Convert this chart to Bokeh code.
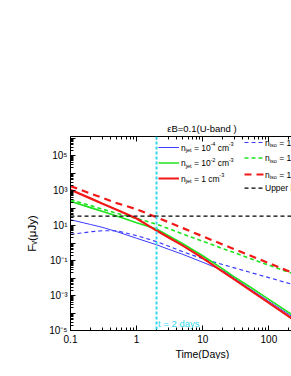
import math
from bokeh.plotting import figure
from bokeh.models import FixedTicker, LogAxis, Label, CustomJSTickFormatter, Span, Title
from bokeh.embed import file_html
from bokeh.resources import INLINE

# ---------------- data ----------------
t_days = [0.1, 0.2, 0.3, 0.5, 1, 2, 3, 5, 10, 20, 30, 50, 100, 220]

# jet (solid) light curves, F_nu in microJy
f_jet_1e4 = [21.4, 11.5, 7.94, 4.47, 1.86, 0.794, 0.447, 0.224, 0.0794, 0.0275, 0.0100, 0.00263, 4.68e-4, 6.61e-5]
f_jet_1e2 = [245, 105, 64.6, 34.7, 14.5, 6.31, 2.69, 0.912, 0.186, 0.0331, 0.0117, 0.00339, 6.03e-4, 8.32e-5]
f_jet_1 = [1096, 355, 182, 79.4, 25.1, 5.13, 2.14, 0.708, 0.138, 0.0234, 0.00832, 0.00224, 3.80e-4, 5.01e-5]

# isotropic (dashed) light curves, F_nu in microJy
f_iso_1e4 = [3.09, 4.37, 5.01, 5.01, 2.63, 1.20, 0.676, 0.316, 0.126, 0.0589, 0.0380, 0.0219, 0.0105, 0.00447]
f_iso_1e2 = [295, 138, 87.1, 50.1, 25.1, 12.0, 6.76, 3.24, 1.26, 0.479, 0.282, 0.138, 0.0537, 0.0191]
f_iso_1 = [1778, 676, 389, 191, 85.1, 29.5, 15.8, 7.08, 2.40, 0.832, 0.447, 0.204, 0.0708, 0.0209]

upper_limit = 34.0
t_marker = 2.0

x_tick_values = [0.1, 1, 10, 100]
x_tick_labels = ["0.1", "1", "10", "100"]
y_tick_exponents = [-5, -3, -1, 1, 3, 5]

legend_jet = ["10^-4", "10^-2", "1"]
legend_iso = ["10^-4", "10^-2", "1"]

title_text = "εB=0.1(U-band )"
x_label = "Time(Days)"
y_label = "Fᵥ(μJy)"

# ---------------- layout ----------------
FONT = "Liberation Sans"
BLUE, GREEN, RED, CYAN = "#3b3bff", "#1fe31f", "#f21818", "#2fd8ec"

X0, X1 = 0.1, 220.0
Y0, Y1 = 1e-5, 10 ** 6.086
FL, FR, FT, FB = 70.0, 291.0, 136.0, 330.0   # frame edges in page pixels

def px2x(px):
    a, b = math.log10(X0), math.log10(X1)
    return 10 ** (a + (px - FL) / (FR - FL) * (b - a))

def py2y(py):
    a, b = math.log10(Y0), math.log10(Y1)
    return 10 ** (a + (FB - py) / (FB - FT) * (b - a))

W = {' ': .278, '(': .333, ')': .333, '-': .333, '.': .278, '=': .584,
     'B': .667, 'D': .722, 'F': .611, 'J': .5, 'T': .611, 'U': .722,
     'a': .556, 'b': .556, 'c': .5, 'd': .556, 'e': .556, 'i': .222, 'j': .222,
     'l': .222, 'm': .833, 'n': .556, 'o': .556, 'p': .556, 'r': .333, 's': .5,
     't': .278, 'u': .556, 'y': .5}

def tw(s, size):
    return sum(W.get(c, .556) for c in s) * size

SUP = str.maketrans("-0123456789", "⁻⁰¹²³⁴⁵⁶⁷⁸⁹")

p = figure(frame_width=int(FR - FL), frame_height=int(FB - FT),
           x_axis_type="log", y_axis_type="log",
           x_range=(X0, X1), y_range=(Y0, Y1),
           output_backend="svg", toolbar_location=None,
           min_border_left=int(FL), min_border_right=0,
           min_border_top=int(FT), min_border_bottom=6)
p.grid.visible = False
p.outline_line_color = None
p.background_fill_color = "white"
p.border_fill_color = "white"

x_minor = [k * 10 ** d for d in (-1, 0, 1, 2) for k in range(2, 10) if k * 10 ** d <= X1]
y_major = [10.0 ** e for e in range(-5, 7)]
y_minor = [k * 10.0 ** d for d in range(-5, 7) for k in range(2, 10) if k * 10.0 ** d <= Y1]

def style_axis(ax):
    ax.major_tick_in = 5
    ax.major_tick_out = 0
    ax.minor_tick_in = 3
    ax.minor_tick_out = 0
    ax.axis_line_color = "black"
    ax.major_tick_line_color = "black"
    ax.minor_tick_line_color = "black"
    ax.axis_line_width = 1

xa = p.xaxis[0]
xa.axis_label = None
xa.ticker = FixedTicker(ticks=x_tick_values, minor_ticks=x_minor)
xa.formatter = CustomJSTickFormatter(
    args=dict(labels=x_tick_labels, vals=x_tick_values),
    code="for (let i=0;i<vals.length;i++){ if (Math.abs(vals[i]-tick) < 1e-9*vals[i]) return labels[i]; } return '';")
xa.major_label_text_font = FONT
xa.major_label_text_font_size = "10px"
xa.major_label_text_color = "black"
xa.major_label_standoff = 4
style_axis(xa)

ya = p.yaxis[0]
ya.ticker = FixedTicker(ticks=y_major, minor_ticks=y_minor)
ya.formatter = CustomJSTickFormatter(
    args=dict(exps=y_tick_exponents, labels=["10" + str(e).translate(SUP) for e in y_tick_exponents]),
    code="const e = Math.round(Math.log10(tick)); const i = exps.indexOf(e); return i >= 0 ? labels[i] : '';")
ya.major_label_text_font = FONT
ya.major_label_text_font_size = "10px"
ya.major_label_text_color = "black"
ya.major_label_standoff = 3
ya.axis_label = y_label
ya.axis_label_text_font = FONT
ya.axis_label_text_font_size = "11.5px"
ya.axis_label_text_font_style = "normal"
ya.axis_label_text_color = "black"
ya.axis_label_standoff = 8
style_axis(ya)

top = LogAxis(ticker=FixedTicker(ticks=x_tick_values, minor_ticks=x_minor),
              formatter=CustomJSTickFormatter(code="return '';"),
              major_label_standoff=0)
style_axis(top)
p.add_layout(top, "above")

p.title.text = title_text
p.title.align = "left"
p.title.offset = 166.7 - FL
p.title.standoff = 6
p.title.text_font = FONT
p.title.text_font_size = "9.5px"
p.title.text_font_style = "normal"
p.title.text_color = "black"

p.add_layout(Title(text=x_label, align="left", offset=202 - FL - tw(x_label, 10.5) / 2,
                   standoff=0, text_font=FONT, text_font_size="10.5px",
                   text_font_style="normal", text_color="black"), "below")

# ---------------- curves ----------------
p.line(t_days, f_jet_1e4, line_color=BLUE, line_width=1)
p.line(t_days, f_iso_1e4, line_color=BLUE, line_width=1.2, line_dash="4 3")
p.line(t_days, f_jet_1e2, line_color=GREEN, line_width=1.6)
p.line(t_days, f_iso_1e2, line_color=GREEN, line_width=1.6, line_dash="4 3")
p.line(t_days, f_jet_1, line_color=RED, line_width=2.2)
p.line(t_days, f_iso_1, line_color=RED, line_width=2.2, line_dash="7 5")

p.add_layout(Span(location=upper_limit, dimension="width", line_color="black",
                  line_width=1.2, line_dash="4 3"))
p.add_layout(Span(location=t_marker, dimension="height", line_color=CYAN,
                  line_width=2, line_dash="3 2"))

# ---------------- rich text helper (inside the frame) ----------------
def rich(px, py, parts, size, color="black"):
    pos = 0.0
    for text, kind in parts:
        if kind == "n":
            fs, d, shift = size, 0.0, 0.0
        elif kind == "sup":
            fs, d, shift = size * 0.65, -size * 0.38, -0.3
        else:
            fs, d, shift = size * 0.65, size * 0.32, 0.0
        core = text.strip(" ")
        lead = len(text) - len(text.lstrip(" "))
        pos += lead * W[" "] * fs
        p.add_layout(Label(x=px2x(px + pos + shift), y=py2y(py + d), text=core, text_font=FONT,
                           text_font_size=f"{fs:.2f}px", text_color=color,
                           text_align="left", text_baseline="middle"))
        pos += tw(text.lstrip(" "), fs) + shift

def parts_n(sub, val):
    if "^" in val:
        base, ex = val.split("^")
        return [("n", "n"), (sub, "sub"), (" = " + base, "n"), (ex, "sup"), (" cm", "n"), ("-3", "sup")]
    return [("n", "n"), (sub, "sub"), (" = " + val + " cm", "n"), ("-3", "sup")]

# legend: left column (jet, solid)
left_rows = [(147.0, BLUE, 1.0), (162.5, GREEN, 1.6), (178.0, RED, 2.2)]
for (py, col, lw), val in zip(left_rows, legend_jet):
    p.line([px2x(158), px2x(178.5)], [py2y(py), py2y(py)], line_color=col, line_width=lw)
    rich(180.5, py, parts_n("jet", val), 8.5)

# legend: right column (iso, dashed)
right_rows = [(142.0, BLUE, 1.2, "4 3"), (157.5, GREEN, 1.6, "4 3"), (174.0, RED, 2.2, "7 5")]
for (py, col, lw, dash), val in zip(right_rows, legend_iso):
    p.line([px2x(244), px2x(263)], [py2y(py), py2y(py)], line_color=col, line_width=lw, line_dash=dash)
    rich(264.5, py, parts_n("iso", val), 8.5)
p.line([px2x(244), px2x(263)], [py2y(187.7), py2y(187.7)], line_color="black", line_width=1.2, line_dash="4 3")
rich(264.5, 187.7, [("Upper limit", "n")], 8.5)

# t = 2 days annotation
p.add_layout(Label(x=t_marker, y=py2y(322.7), x_offset=1.5, text="t = 2 days", text_font=FONT,
                   text_font_size="9.5px", text_align="left", text_baseline="middle",
                   text_color=CYAN))

open("out.html", "w").write(file_html(p, INLINE))
